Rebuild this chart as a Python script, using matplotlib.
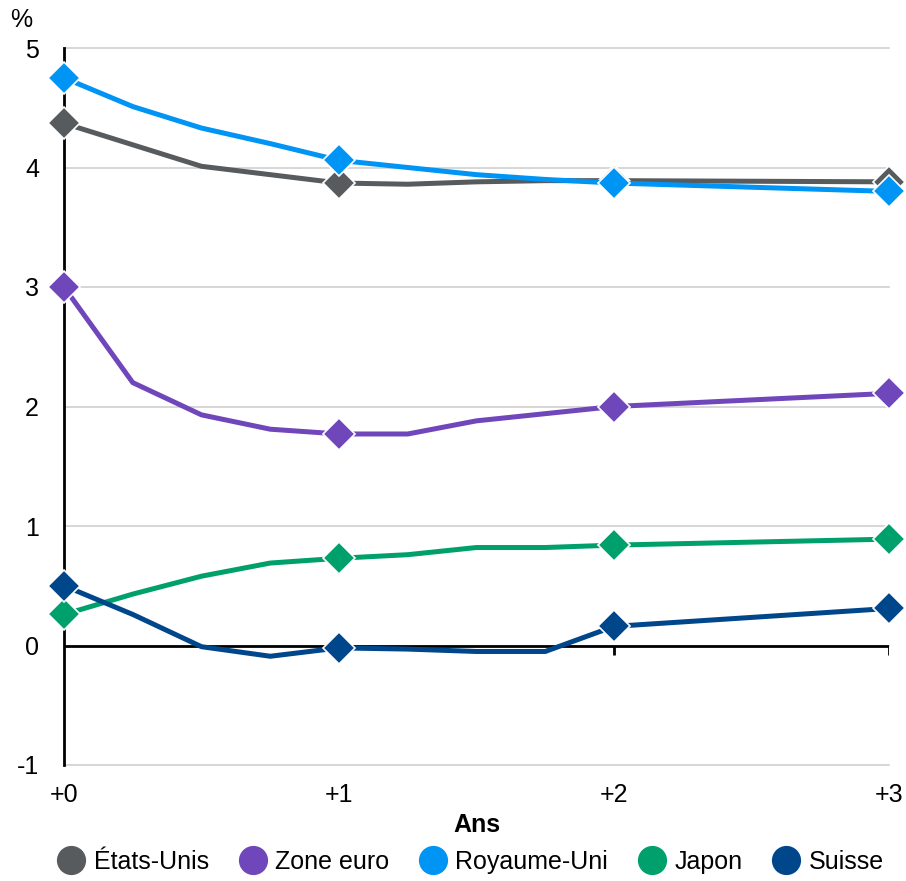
import matplotlib.pyplot as plt
import numpy as np

plt.rcParams['font.family'] = ['Liberation Sans', 'DejaVu Sans']

# Horizon in years (quarterly to +2, then +3)
years = [0, 0.25, 0.5, 0.75, 1, 1.25, 1.5, 1.75, 2, 3]

etats_unis = [4.37, 4.19, 4.01, 3.94, 3.87, 3.86, 3.88, 3.89, 3.89, 3.88]
zone_euro = [3.00, 2.20, 1.93, 1.81, 1.77, 1.77, 1.88, 1.94, 2.00, 2.11]
royaume_uni = [4.75, 4.51, 4.33, 4.20, 4.06, 4.00, 3.94, 3.90, 3.87, 3.80]
japon = [0.26, 0.43, 0.58, 0.69, 0.73, 0.76, 0.82, 0.82, 0.84, 0.89]
suisse = [0.50, 0.26, -0.01, -0.09, -0.02, -0.03, -0.05, -0.05, 0.16, 0.31]

series = ['États-Unis', 'Zone euro', 'Royaume-Uni', 'Japon', 'Suisse']
values = [etats_unis, zone_euro, royaume_uni, japon, suisse]
colors = ['#575b5e', '#7046bb', '#0094f4', '#00a06c', '#00468b']

x_ticks = [0, 1, 2, 3]
x_labels = ['+0', '+1', '+2', '+3']
y_ticks = [-1, 0, 1, 2, 3, 4, 5]

fs = 18

fig = plt.figure(figsize=(9.06, 8.81), dpi=100)
ax = fig.add_axes([64 / 906, (881 - 765) / 881, (889 - 64) / 906, (765 - 48) / 881])

# markers only on whole years
mark_idx = [years.index(t) for t in x_ticks]
for name, vals, col in zip(series, values, colors):
    ax.plot(years, vals, color=col, lw=3.6, marker='D', markersize=16,
            markevery=mark_idx, markeredgecolor='white', markeredgewidth=1.2,
            zorder=3, clip_on=False)

ax.set_xlim(0, 3)
ax.set_ylim(-1, 5)
ax.set_yticks(y_ticks)
ax.set_yticklabels([str(v) for v in y_ticks])
ax.set_xticks(x_ticks)
ax.set_xticklabels(x_labels)
ax.tick_params(axis='y', length=0, pad=18, labelsize=fs)
ax.tick_params(axis='x', length=0, pad=13, labelsize=fs)

ax.grid(axis='y', color='#d0d0d0', lw=1.2)
for gl in ax.get_ygridlines():
    gl.set_clip_on(False)
ax.set_axisbelow(True)
for s in ['top', 'right', 'bottom']:
    ax.spines[s].set_visible(False)
ax.spines['left'].set_linewidth(2)
ax.spines['left'].set_zorder(2)

# zero line with small downward ticks
ax.axhline(0, color='black', lw=2, zorder=2)
ax.vlines(x_ticks[1:], -0.08, 0, color='black', lw=2, zorder=2)

ax.set_xlabel('Ans', fontsize=fs, fontweight='bold', labelpad=4)
fig.text(10 / 906, 1 - 20 / 881, '%', fontsize=fs, va='center', ha='left')

handles = [plt.Line2D([], [], ls='none', marker='o', markersize=20, color=c) for c in colors]
fig.legend(handles, series, loc='center', bbox_to_anchor=(470 / 906, 1 - 862 / 881),
           ncol=5, frameon=False, fontsize=fs, handletextpad=0.3,
           columnspacing=1.15, handlelength=1.2)

fig.savefig('out.png', dpi=100)
